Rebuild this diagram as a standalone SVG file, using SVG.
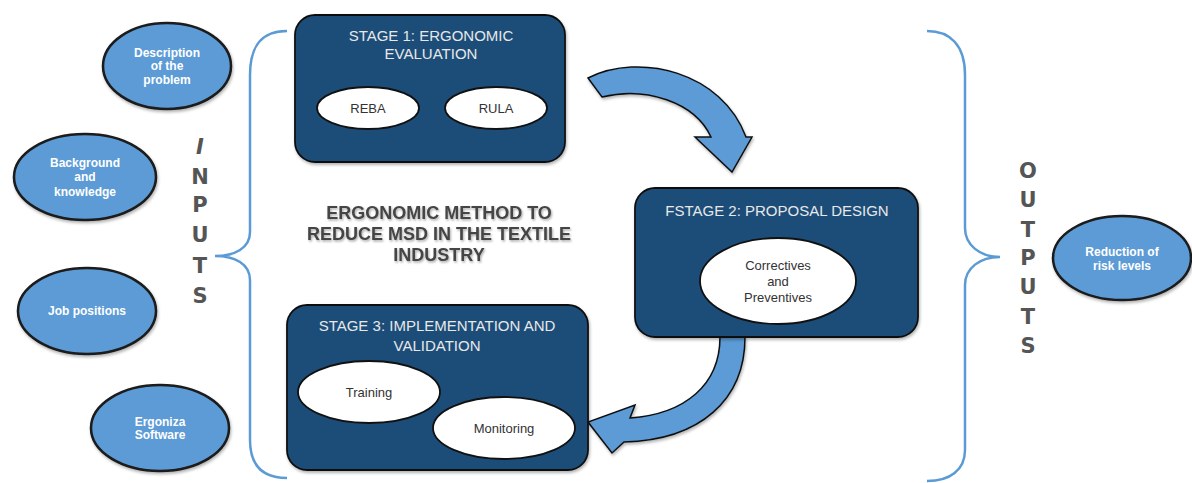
<svg xmlns="http://www.w3.org/2000/svg" width="1192" height="483" viewBox="0 0 1192 483">
<defs>
<filter id="sh" x="-20%" y="-20%" width="140%" height="140%"><feDropShadow dx="1" dy="2" stdDeviation="1.5" flood-color="#000" flood-opacity="0.3"/></filter>
<filter id="tsh" x="-10%" y="-10%" width="120%" height="130%"><feDropShadow dx="1" dy="1.5" stdDeviation="0.8" flood-color="#000" flood-opacity="0.35"/></filter>
</defs>
<style>
.inp{fill:#5b9bd5;stroke:#1a1a1a;stroke-width:2.5}
.inpt{font-family:"Liberation Sans",Arial,sans-serif;font-weight:bold;font-size:12px;fill:#fff;text-anchor:middle}
.stage{fill:#1f4e79;stroke:#111;stroke-width:1.8}
.stt{font-family:"Liberation Sans",Arial,sans-serif;font-size:15px;fill:#e8e8e8;text-anchor:middle}
.inner{fill:#fff;stroke:#111;stroke-width:1.8}
.int{font-family:"Liberation Sans",Arial,sans-serif;font-size:13px;fill:#333;text-anchor:middle}
.arrow{fill:#5b9bd5;stroke:#111;stroke-width:1.5;stroke-linejoin:miter}
.brace{fill:none;stroke:#5b9bd5;stroke-width:2.5}
.vl{font-family:"DejaVu Sans","Liberation Sans",Arial,sans-serif;font-weight:bold;font-size:21px;fill:#555;text-anchor:middle}
.title{font-family:"Liberation Sans",Arial,sans-serif;font-weight:bold;font-size:18px;fill:#444;text-anchor:middle}
</style>
<rect width="1192" height="483" fill="#fff"/>

<g id="connectors">
<path class="brace" d="M287,31 C262,31 250,45 250,75 L250,232 C250,248 235,256 215,256 C235,256 250,264 250,280 L250,440 C250,465 262,478 287,478"/>
<path class="brace" d="M927,31 C950,31 965,45 965,75 L965,228 C965,245 980,257 1000,257 C980,257 965,268 965,285 L965,450 C965,470 950,481 927,481"/>
<path class="arrow" filter="url(#sh)" d="M588,78 C640,52 722,72 746,137 L752,137 L732,172 L695,137 L711,137 C695,102 645,86 602,97 Z"/>
<path class="arrow" filter="url(#sh)" d="M745,337 C745,400 700,440 624,442 L612,453 L588,422 L635,405 L630,418 C685,414 720,385 720,337 Z"/>
</g>

<g id="inputs-label">
<text class="vl" x="200" y="154" font-style="italic">I</text>
<text class="vl" x="200" y="184">N</text>
<text class="vl" x="200" y="212">P</text>
<text class="vl" x="200" y="242">U</text>
<text class="vl" x="200" y="273">T</text>
<text class="vl" x="200" y="303">S</text>
</g>
<g id="outputs-label">
<text class="vl" x="1028" y="178">O</text>
<text class="vl" x="1028" y="207">U</text>
<text class="vl" x="1028" y="237">T</text>
<text class="vl" x="1028" y="265">P</text>
<text class="vl" x="1028" y="294">U</text>
<text class="vl" x="1028" y="324">T</text>
<text class="vl" x="1028" y="353">S</text>
</g>

<g id="input-description">
<ellipse class="inp" filter="url(#sh)" cx="167" cy="66" rx="64" ry="43"/>
<text class="inpt" x="167" y="57">Description</text>
<text class="inpt" x="167" y="70">of the</text>
<text class="inpt" x="167" y="84">problem</text>
</g>
<g id="input-background">
<ellipse class="inp" filter="url(#sh)" cx="85" cy="177" rx="71" ry="43"/>
<text class="inpt" x="85" y="167">Background</text>
<text class="inpt" x="85" y="181">and</text>
<text class="inpt" x="85" y="196">knowledge</text>
</g>
<g id="input-job">
<ellipse class="inp" filter="url(#sh)" cx="87" cy="311" rx="69" ry="43"/>
<text class="inpt" x="87" y="315">Job positions</text>
</g>
<g id="input-ergoniza">
<ellipse class="inp" filter="url(#sh)" cx="160" cy="428" rx="69" ry="43"/>
<text class="inpt" x="160" y="426">Ergoniza</text>
<text class="inpt" x="160" y="439">Software</text>
</g>
<g id="output-reduction">
<ellipse class="inp" filter="url(#sh)" cx="1122" cy="258" rx="69" ry="42"/>
<text class="inpt" x="1122" y="256">Reduction of</text>
<text class="inpt" x="1122" y="270">risk levels</text>
</g>

<g id="title">
<g filter="url(#tsh)">
<text class="title" x="439" y="219">ERGONOMIC METHOD TO</text>
<text class="title" x="439" y="240">REDUCE MSD IN THE TEXTILE</text>
<text class="title" x="439" y="261">INDUSTRY</text>
</g>
</g>

<g id="stage1">
<rect class="stage" filter="url(#sh)" x="295" y="15" width="270" height="147" rx="20"/>
<text class="stt" x="431" y="41">STAGE 1: ERGONOMIC</text>
<text class="stt" x="431" y="59">EVALUATION</text>
<ellipse class="inner" cx="368" cy="108" rx="51" ry="21"/>
<text class="int" x="368" y="113">REBA</text>
<ellipse class="inner" cx="496" cy="108" rx="51" ry="21"/>
<text class="int" x="496" y="113">RULA</text>
</g>

<g id="stage2">
<rect class="stage" filter="url(#sh)" x="635" y="188" width="283" height="149" rx="20"/>
<text class="stt" x="777" y="216">FSTAGE 2: PROPOSAL DESIGN</text>
<ellipse class="inner" cx="778" cy="281" rx="78" ry="43"/>
<text class="int" x="778" y="270">Correctives</text>
<text class="int" x="778" y="286">and</text>
<text class="int" x="778" y="302">Preventives</text>
</g>

<g id="stage3">
<rect class="stage" filter="url(#sh)" x="287" y="305" width="301" height="165" rx="20"/>
<text class="stt" x="437" y="331">STAGE 3: IMPLEMENTATION AND</text>
<text class="stt" x="437" y="351">VALIDATION</text>
<ellipse class="inner" cx="369" cy="392" rx="71" ry="31"/>
<text class="int" x="369" y="397">Training</text>
<ellipse class="inner" cx="504" cy="428" rx="71" ry="31"/>
<text class="int" x="504" y="433">Monitoring</text>
</g>
</svg>
